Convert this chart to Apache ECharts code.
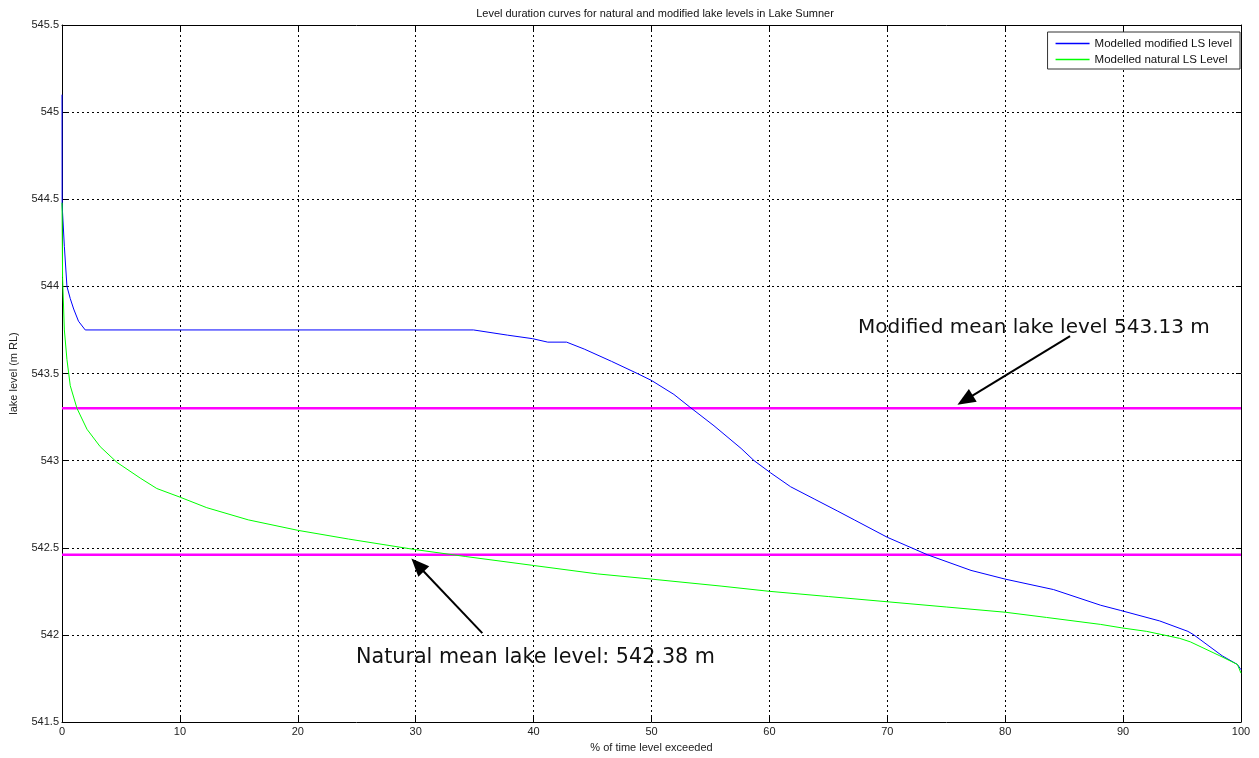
<!DOCTYPE html>
<html>
<head>
<meta charset="utf-8">
<script src="https://cdn.jsdelivr.net/npm/echarts@6/dist/echarts.min.js"></script>
<style>
  html, body { margin: 0; padding: 0; background: #fff; }
  #chart { width: 1259px; height: 758px; }
</style>
</head>
<body>
<div id="chart"></div>
<script>
// % of time exceeded, level (m RL)
var modifiedPct = [0, 0.01, 0.2, 0.42, 0.7, 0.99, 1.4, 1.97, 34.9, 37.8, 39.9, 41.2, 42.8, 44.3, 46.6, 48.8, 50, 51.9, 53.2, 55.3, 57.6, 58.7, 60.1, 61.8, 63.8, 65.8, 67.2, 70, 73.4, 77.1, 80, 84.1, 88.1, 89.8, 93.1, 95.5, 96, 98.4, 99.7, 100];
var modifiedLvl = [545.1, 544.47, 544.23, 544.0, 543.93, 543.87, 543.8, 543.75, 543.75, 543.72, 543.7, 543.68, 543.68, 543.64, 543.57, 543.5, 543.46, 543.38, 543.31, 543.2, 543.07, 543.0, 542.93, 542.85, 542.78, 542.71, 542.66, 542.56, 542.46, 542.37, 542.32, 542.26, 542.17, 542.14, 542.08, 542.02, 542.0, 541.88, 541.83, 541.8];

var naturalPct = [0, 0.05, 0.2, 0.42, 0.7, 1.27, 2.12, 3.24, 4.66, 6.63, 8.04, 10.02, 12.28, 15.8, 20, 24.3, 29.9, 34.2, 39.8, 45.4, 50, 55.9, 60, 65, 70, 75, 80, 83.5, 88.1, 89.9, 92, 94.8, 95.7, 98.2, 99.7, 100];
var naturalLvl = [544.48, 544.05, 543.75, 543.58, 543.43, 543.3, 543.18, 543.08, 542.99, 542.9, 542.84, 542.79, 542.73, 542.66, 542.6, 542.55, 542.49, 542.45, 542.4, 542.35, 542.32, 542.28, 542.25, 542.22, 542.19, 542.16, 542.13, 542.1, 542.06, 542.04, 542.02, 541.98, 541.96, 541.88, 541.83, 541.78];

var meanLevels = [543.30, 542.46];
// arrows: [fromPct, fromLvl, toPct, toLvl]
var arrowModified = [85.5, 543.715, 76.6, 543.347];
var arrowNatural = [35.65, 542.01, 30.16, 542.401];

function pairs(xs, ys) {
    var out = [];
    for (var i = 0; i < xs.length; i++) out.push([xs[i], ys[i]]);
    return out;
}

var chart = echarts.init(document.getElementById('chart'));

var labelFont = { color: '#222', fontSize: 11, fontFamily: 'Liberation Sans' };

var option = {
    animation: false,
    backgroundColor: '#fff',
    title: {
        text: 'Level duration curves for natural and modified lake levels in Lake Sumner',
        left: 650,
        textAlign: 'center',
        top: 3,
        textStyle: { fontSize: 11, fontWeight: 'normal', color: '#111', fontFamily: 'Liberation Sans' }
    },
    legend: {
        data: [
            { name: 'Modelled modified LS level', icon: 'rect' },
            { name: 'Modelled natural LS Level', icon: 'rect' }
        ],
        orient: 'vertical',
        right: 19,
        top: 32,
        backgroundColor: '#fff',
        borderColor: '#333',
        borderWidth: 1,
        padding: [5, 8, 3, 8],
        itemGap: 3,
        itemWidth: 34,
        itemHeight: 1.5,
        textStyle: { fontSize: 11.5, color: '#111', fontFamily: 'Liberation Sans', lineHeight: 13 }
    },
    grid: { left: 60, right: 18, top: 25, bottom: 34 },
    xAxis: [{
        type: 'value', min: 0, max: 100, interval: 10,
        name: '% of time level exceeded', nameLocation: 'middle', nameGap: 20,
        nameTextStyle: { fontSize: 11, color: '#222', fontFamily: 'Liberation Sans' },
        axisLine: { onZero: false, lineStyle: { color: '#000', width: 1 } },
        axisTick: { inside: true, length: 5, lineStyle: { color: '#000' } },
        axisLabel: Object.assign({ margin: 4 }, labelFont),
        splitLine: { show: true, lineStyle: { color: '#000', type: [2, 3], width: 1 } }
    }, {
        type: 'value', min: 0, max: 100, interval: 10, position: 'top',
        axisLine: { onZero: false, lineStyle: { color: '#000', width: 1 } },
        axisTick: { inside: true, length: 5, lineStyle: { color: '#000' } },
        axisLabel: { show: false }, splitLine: { show: false }
    }],
    yAxis: [{
        type: 'value', min: 541.5, max: 545.5, interval: 0.5,
        name: 'lake level (m RL)', nameLocation: 'middle', nameGap: 43,
        nameTextStyle: { fontSize: 11, color: '#222', fontFamily: 'Liberation Sans' },
        axisLine: { show: true, onZero: false, lineStyle: { color: '#000', width: 1 } },
        axisTick: { show: true, inside: true, length: 5, lineStyle: { color: '#000' } },
        axisLabel: Object.assign({ margin: 3 }, labelFont),
        splitLine: { show: true, lineStyle: { color: '#000', type: [2, 3], width: 1 } }
    }, {
        type: 'value', min: 541.5, max: 545.5, interval: 0.5, position: 'right',
        axisLine: { show: true, onZero: false, lineStyle: { color: '#000', width: 1 } },
        axisTick: { show: true, inside: true, length: 5, lineStyle: { color: '#000' } },
        axisLabel: { show: false }, splitLine: { show: false }
    }],
    series: [
        {
            name: 'Modified mean',
            type: 'line', symbol: 'none', silent: true,
            data: [[0, meanLevels[0]], [100, meanLevels[0]]],
            lineStyle: { color: '#ff00ff', width: 2.5 },
            itemStyle: { color: '#ff00ff' },
            z: 2
        },
        {
            name: 'Natural mean',
            type: 'line', symbol: 'none', silent: true,
            data: [[0, meanLevels[1]], [100, meanLevels[1]]],
            lineStyle: { color: '#ff00ff', width: 2.5 },
            itemStyle: { color: '#ff00ff' },
            z: 2,
            markLine: {
                silent: true,
                symbol: ['none', 'triangle'],
                symbolSize: [15, 18],
                lineStyle: { color: '#000', width: 2, type: 'solid' },
                itemStyle: { color: '#000' },
                label: { show: false },
                data: [
                    [{ coord: [arrowModified[0], arrowModified[1]] }, { coord: [arrowModified[2], arrowModified[3]] }],
                    [{ coord: [arrowNatural[0], arrowNatural[1]] }, { coord: [arrowNatural[2], arrowNatural[3]] }]
                ]
            }
        },
        {
            name: 'Modelled modified LS level',
            type: 'line', symbol: 'none',
            data: pairs(modifiedPct, modifiedLvl),
            lineStyle: { color: '#0000ff', width: 1 },
            itemStyle: { color: '#0000ff' },
            z: 3
        },
        {
            name: 'Modelled natural LS Level',
            type: 'line', symbol: 'none',
            data: pairs(naturalPct, naturalLvl),
            lineStyle: { color: '#00ff00', width: 1 },
            itemStyle: { color: '#00ff00' },
            z: 3
        }
    ],
    graphic: [
        {
            type: 'text', left: 858, top: 318,
            style: { text: 'Modified mean lake level 543.13 m', fontSize: 20, fill: '#111', fontFamily: 'DejaVu Sans' }
        },
        {
            type: 'text', left: 356, top: 647,
            style: { text: 'Natural mean lake level: 542.38 m', fontSize: 20.7, fill: '#111', fontFamily: 'DejaVu Sans' }
        }
    ]
};

chart.setOption(option);
</script>
</body>
</html>
